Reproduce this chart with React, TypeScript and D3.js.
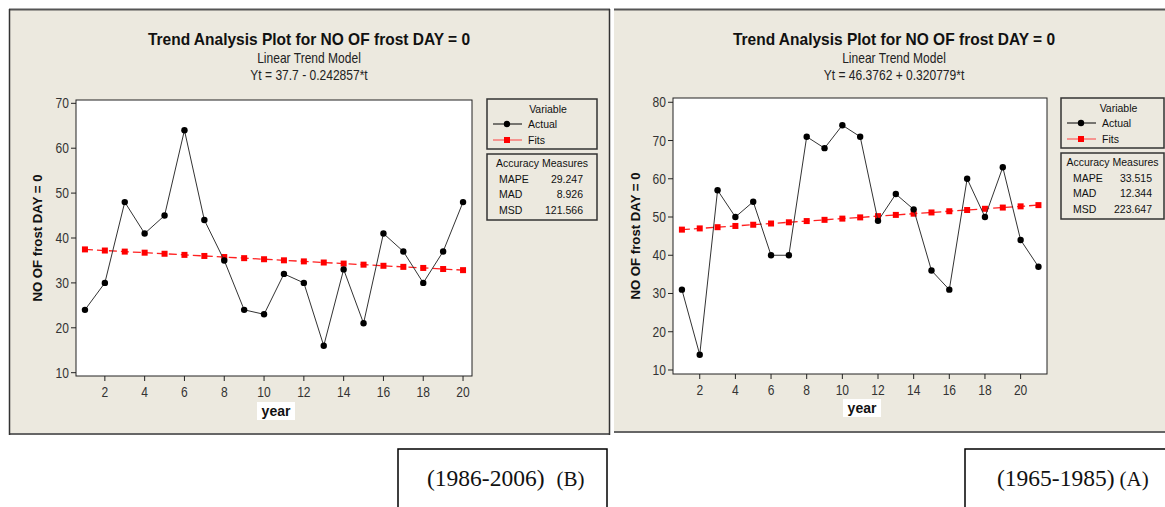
import React from 'react'
import * as d3 from 'd3'

// 1986-2006 (B)
const yearsB = d3.range(1, 21)
const actualB = [24, 30, 48, 41, 45, 64, 44, 35, 24, 23, 32, 30, 16, 33, 21, 41, 37, 30, 37, 48]
const fitsB = [37.46, 37.21, 36.97, 36.73, 36.49, 36.24, 36.0, 35.76, 35.51, 35.27,
  35.03, 34.79, 34.54, 34.3, 34.06, 33.81, 33.57, 33.33, 33.09, 32.84]
const accB = [['MAPE', '29.247'], ['MAD', '8.926'], ['MSD', '121.566']]

// 1965-1985 (A)
const yearsA = d3.range(1, 22)
const actualA = [31, 14, 57, 50, 54, 40, 40, 71, 68, 74, 71, 49, 56, 52, 36, 31, 60, 50, 63, 44, 37]
const fitsA = [46.7, 47.02, 47.34, 47.66, 47.98, 48.3, 48.62, 48.94, 49.26, 49.58, 49.9,
  50.23, 50.55, 50.87, 51.19, 51.51, 51.83, 52.15, 52.47, 52.79, 53.11]
const accA = [['MAPE', '33.515'], ['MAD', '12.344'], ['MSD', '223.647']]

const xTicksB = [2, 4, 6, 8, 10, 12, 14, 16, 18, 20]
const yTicksB = [10, 20, 30, 40, 50, 60, 70]
const xTicksA = [2, 4, 6, 8, 10, 12, 14, 16, 18, 20]
const yTicksA = [10, 20, 30, 40, 50, 60, 70, 80]

const BG = '#ECE9DF'
const sans = "'Liberation Sans', Arial, sans-serif"
const serif = "'Liberation Serif', 'Times New Roman', serif"

// condensed text (minitab uses a narrow face)
function NText(props: any) {
  const { x, y, sx = 0.86, children, ...rest } = props
  return (
    <text transform={`translate(${x},${y}) scale(${sx},1)`} {...rest}>{children}</text>
  )
}

function Panel(props: any) {
  const { p, years, actual, fits, acc, xTicks, yTicks, equation } = props
  const x = d3.scaleLinear().domain(p.xDomain).range([p.left, p.right])
  const y = d3.scaleLinear().domain(p.yDomain).range([p.bottom, p.top])
  const line = d3.line<number>().x((d, i) => x(years[i])).y(d => y(d))
  const lg = p.legend

  return (
    <g>
      {/* panel background */}
      <rect x={p.px} y={p.py} width={p.pw} height={p.ph} fill={BG} />
      <line x1={p.px} x2={p.px + p.pw} y1={p.py + 0.5} y2={p.py + 0.5} stroke='#555' strokeWidth={2} />
      <line x1={p.px} x2={p.px + p.pw} y1={p.py + p.ph - 1} y2={p.py + p.ph - 1} stroke='#666' strokeWidth={2} />
      {p.borderL && <line x1={p.px + 0.5} x2={p.px + 0.5} y1={p.py} y2={p.py + p.ph} stroke='#333' strokeWidth={1.5} />}
      {p.borderR && <line x1={p.px + p.pw - 0.5} x2={p.px + p.pw - 0.5} y1={p.py} y2={p.py + p.ph} stroke='#333' strokeWidth={1.5} />}

      {/* titles */}
      <NText x={p.cx} y={45} sx={0.97} textAnchor='middle' fontFamily={sans} fontWeight='bold' fontSize={16} fill='#111'>
        Trend Analysis Plot for NO OF frost DAY = 0
      </NText>
      <NText x={p.cx} y={63} textAnchor='middle' fontFamily={sans} fontSize={14} fill='#222'>Linear Trend Model</NText>
      <NText x={p.cx} y={80} textAnchor='middle' fontFamily={sans} fontSize={14} fill='#222'>{equation}</NText>

      {/* plot area */}
      <rect x={p.left} y={p.top} width={p.right - p.left} height={p.bottom - p.top} fill='#fff' stroke='#222' strokeWidth={1} />

      {/* y axis */}
      {yTicks.map((t: number) => (
        <g key={'y' + t}>
          <line x1={p.left - 5} x2={p.left} y1={y(t)} y2={y(t)} stroke='#222' />
          <NText x={p.left - 7} y={y(t) + 5} textAnchor='end' fontFamily={sans} fontSize={14} fill='#333'>{t}</NText>
        </g>
      ))}
      {/* x axis */}
      {xTicks.map((t: number) => (
        <g key={'x' + t}>
          <line x1={x(t)} x2={x(t)} y1={p.bottom} y2={p.bottom + 5} stroke='#222' />
          <NText x={x(t)} y={p.bottom + 21} textAnchor='middle' fontFamily={sans} fontSize={14} fill='#333'>{t}</NText>
        </g>
      ))}

      {/* axis titles */}
      <text transform={`translate(${p.ylabX},${(p.top + p.bottom) / 2}) rotate(-90)`} dy='0.35em' textAnchor='middle'
        fontFamily={sans} fontWeight='bold' fontSize={13.2} fill='#111'>NO OF frost DAY = 0</text>
      <rect x={p.yearX - 19} y={p.yearY - 9} width={38} height={18} fill='#fff' />
      <text x={p.yearX} y={p.yearY} dy='0.35em' textAnchor='middle' fontFamily={sans} fontWeight='bold' fontSize={14} fill='#111'>year</text>

      {/* fits */}
      <path d={line(fits) || ''} fill='none' stroke='#ff2020' strokeWidth={1.3} strokeDasharray='8,4' />
      {fits.map((d: number, i: number) => (
        <rect key={'f' + i} x={x(years[i]) - 3} y={y(d) - 3} width={6} height={6} fill='#f00' />
      ))}
      {/* actual */}
      <path d={line(actual) || ''} fill='none' stroke='#333' strokeWidth={1} />
      {actual.map((d: number, i: number) => (
        <circle key={'a' + i} cx={x(years[i])} cy={y(d)} r={3.2} fill='#000' />
      ))}

      {/* legend */}
      <rect x={lg.x} y={lg.y} width={lg.w} height={50} fill={BG} stroke='#333' strokeWidth={1.5} />
      <text x={lg.x + lg.w / 2 + 6} y={lg.y + 10} dy='0.35em' textAnchor='middle' fontFamily={sans} fontSize={10.5} fill='#111'>Variable</text>
      <line x1={lg.x + 6} x2={lg.x + 35} y1={lg.y + 25} y2={lg.y + 25} stroke='#000' />
      <circle cx={lg.x + 20} cy={lg.y + 25} r={3.2} fill='#000' />
      <text x={lg.x + 41} y={lg.y + 25} dy='0.35em' fontFamily={sans} fontSize={10.5} fill='#111'>Actual</text>
      <line x1={lg.x + 6} x2={lg.x + 35} y1={lg.y + 41} y2={lg.y + 41} stroke='#ff4040' />
      <rect x={lg.x + 17} y={lg.y + 38} width={6} height={6} fill='#f00' />
      <text x={lg.x + 41} y={lg.y + 41} dy='0.35em' fontFamily={sans} fontSize={10.5} fill='#111'>Fits</text>

      <rect x={lg.x} y={lg.y + 55} width={lg.w} height={66} fill={BG} stroke='#333' strokeWidth={1.5} />
      <text x={lg.x + lg.w / 2} y={lg.y + 64} dy='0.35em' textAnchor='middle' fontFamily={sans} fontSize={10.5} fill='#111'>Accuracy Measures</text>
      {acc.map((r: string[], i: number) => (
        <g key={r[0]}>
          <text x={lg.x + lg.lx} y={lg.y + 80 + i * 15.5} dy='0.35em' fontFamily={sans} fontSize={10.5} fill='#111'>{r[0]}</text>
          <text x={lg.x + lg.vx} y={lg.y + 80 + i * 15.5} dy='0.35em' textAnchor='end' fontFamily={sans} fontSize={10.5} fill='#111'>{r[1]}</text>
        </g>
      ))}
    </g>
  )
}

const panelB = {
  px: 9, py: 9, pw: 601, ph: 426, borderL: true, borderR: true, cx: 309,
  left: 76, right: 472, top: 100, bottom: 376,
  xDomain: [0.55, 20.45], yDomain: [9.26, 70.74],
  ylabX: 37, yearX: 276, yearY: 411,
  legend: { x: 487, y: 99, w: 110, lx: 12, vx: 96 }
}
const panelA = {
  px: 614, py: 9, pw: 560, ph: 424, borderL: false, borderR: false, cx: 894,
  left: 673, right: 1047, top: 98, bottom: 374,
  xDomain: [0.5, 21.48], yDomain: [8.95, 81.12],
  ylabX: 635, yearX: 862, yearY: 408,
  legend: { x: 1061, y: 98, w: 103, lx: 12, vx: 91 }
}

export default function App() {
  return (
    <div style={{ position: 'absolute', left: 0, top: 0 }}>
      <svg width={1165} height={507} style={{ display: 'block', background: '#fff' }}>
        <Panel p={panelB} years={yearsB} actual={actualB} fits={fitsB} acc={accB}
          xTicks={xTicksB} yTicks={yTicksB} equation='Yt = 37.7 - 0.242857*t' />
        <Panel p={panelA} years={yearsA} actual={actualA} fits={fitsA} acc={accA}
          xTicks={xTicksA} yTicks={yTicksA} equation='Yt = 46.3762 + 0.320779*t' />

        {/* captions */}
        <rect x={398} y={449} width={209} height={70} fill='#fff' stroke='#000' strokeWidth={1.5} />
        <text x={427} y={486} fontFamily={serif} fontSize={23.5} fill='#111'>
          (1986-2006)<tspan dx={12} fontSize={21}>(B)</tspan>
        </text>
        <rect x={965} y={449} width={220} height={70} fill='#fff' stroke='#000' strokeWidth={1.5} />
        <text x={997} y={486} fontFamily={serif} fontSize={23.5} fill='#111'>
          (1965-1985)<tspan dx={5} fontSize={21}>(A)</tspan>
        </text>
      </svg>
    </div>
  )
}
